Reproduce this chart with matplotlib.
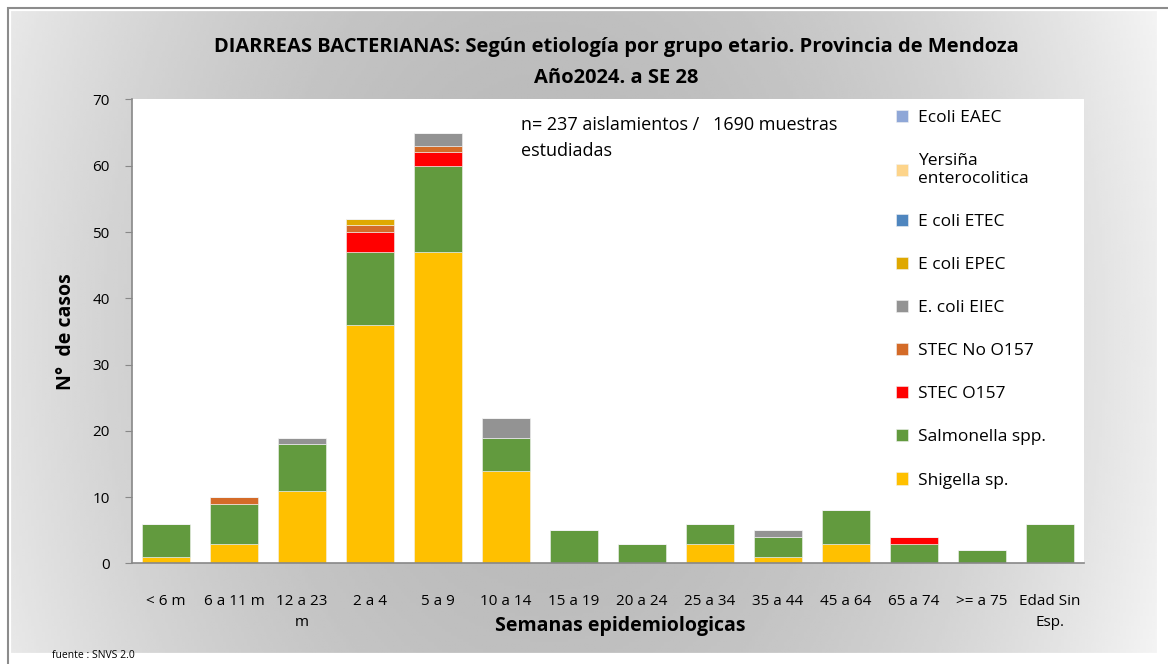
import numpy as np
import matplotlib
matplotlib.use("Agg")
import matplotlib.pyplot as plt
from matplotlib.patches import Rectangle

plt.rcParams['font.family'] = ['Open Sans', 'DejaVu Sans']

# grupos etarios
grupos = ['< 6 m', '6 a 11 m', '12 a 23\nm', '2 a 4', '5 a 9', '10 a 14', '15 a 19',
          '20 a 24', '25 a 34', '35 a 44', '45 a 64', '65 a 74', '>= a 75', 'Edad Sin\nEsp.']

# series (orden de apilado, de abajo hacia arriba)
shigella    = [1, 3, 11, 36, 47, 14, 0, 0, 3, 1, 3, 0, 0, 0]
salmonella  = [5, 6, 7, 11, 13, 5, 5, 3, 3, 3, 5, 3, 2, 6]
stec_o157   = [0, 0, 0, 3, 2, 0, 0, 0, 0, 0, 0, 1, 0, 0]
stec_no     = [0, 1, 0, 1, 1, 0, 0, 0, 0, 0, 0, 0, 0, 0]
eiec        = [0, 0, 1, 0, 2, 3, 0, 0, 0, 1, 0, 0, 0, 0]
epec        = [0, 0, 0, 1, 0, 0, 0, 0, 0, 0, 0, 0, 0, 0]
etec        = [0] * 14
yersinia    = [0] * 14
eaec        = [0] * 14

series = [
    ('Shigella sp.', shigella, '#FFC000'),
    ('Salmonella spp.', salmonella, '#629A3E'),
    ('STEC O157', stec_o157, '#FF0000'),
    ('STEC No O157', stec_no, '#D46B28'),
    ('E. coli EIEC', eiec, '#939393'),
    ('E coli EPEC', epec, '#DFA800'),
    ('E coli ETEC', etec, '#4F86BF'),
    ('Yersiña\nenterocolitica', yersinia, '#FDD48A'),
    ('Ecoli EAEC', eaec, '#8FA7D7'),
]

fig = plt.figure(figsize=(11.68, 6.64), dpi=100)

# fondo gris degradado
bg = fig.add_axes([0, 0, 1, 1], zorder=-10)
xx, yy = np.meshgrid(np.linspace(0, 1, 400), np.linspace(0, 1, 200))
grad = 0.72 + 0.19 * ((xx - 0.47) / 0.5) ** 2 + 0.03 * ((yy - 0.5) / 0.5) ** 2
bg.imshow(np.clip(grad, 0, 1), cmap='gray', vmin=0, vmax=1, aspect='auto',
          extent=[0, 1, 0, 1], origin='lower')
bg.set_xlim(0, 1)
bg.set_ylim(0, 1)
bg.axis('off')
bg.add_patch(Rectangle((0, 0), 1, 1, facecolor='none', edgecolor='white', lw=16,
                       transform=bg.transAxes, clip_on=True))
bg.add_patch(Rectangle((8 / 1168, -0.1), 1.2, 1.1 - 8 / 664, facecolor='none',
                       edgecolor='#8c8c8c', lw=1.5, transform=bg.transAxes, clip_on=True))

ax = fig.add_axes([0.113, 0.1514, 0.815, 0.6988])
ax.set_facecolor('white')

x = np.arange(len(grupos))
bottom = np.zeros(len(grupos))
handles = []
for name, vals, col in series:
    vals = np.array(vals, dtype=float)
    b = ax.bar(x, vals, 0.7, bottom=bottom, color=col, edgecolor='#f2f2f2',
               linewidth=0.4, label=name)
    handles.append(b)
    bottom += vals

ax.set_xlim(-0.5, 13.5)
ax.set_ylim(0, 70)
ax.set_yticks(range(0, 71, 10))
ax.set_xticks(x)
ax.set_xticklabels(grupos, fontsize=11, linespacing=1.5)
ax.tick_params(axis='x', length=0, pad=22)
ax.tick_params(axis='y', length=5, color='#888888', labelsize=11, pad=11)
for s in ['top', 'right']:
    ax.spines[s].set_visible(False)
for s in ['left', 'bottom']:
    ax.spines[s].set_color('#888888')
    ax.spines[s].set_linewidth(1.2)

ax.set_ylabel('N°  de casos', fontsize=14, fontweight='bold', labelpad=12)
ax.set_xlabel('Semanas epidemiologicas', fontsize=14, fontweight='bold')
ax.xaxis.set_label_coords(0.5126, -0.114)

fig.suptitle('DIARREAS BACTERIANAS: Según etiología por grupo etario. Provincia de Mendoza\nAño2024. a SE 28',
             x=616 / 1168, fontsize=14.5, fontweight='bold', y=0.945, linespacing=1.75)

ax.text(0.409, 0.965, 'n= 237 aislamientos /   1690 muestras\nestudiadas', transform=ax.transAxes,
        fontsize=13, va='top', ha='left', linespacing=1.6)

leg = ax.legend(handles=handles[::-1], loc='upper left', bbox_to_anchor=(880 / 1168, 1 - 94 / 664),
                bbox_transform=fig.transFigure, frameon=False, fontsize=12.5,
                handlelength=0.7, handleheight=0.7, handletextpad=0.6, labelspacing=1.55)

fig.text(52 / 1168, 1 - 655 / 664, 'fuente : SNVS 2.0', fontsize=7.5, va='center')

fig.savefig('out.png', dpi=100)
